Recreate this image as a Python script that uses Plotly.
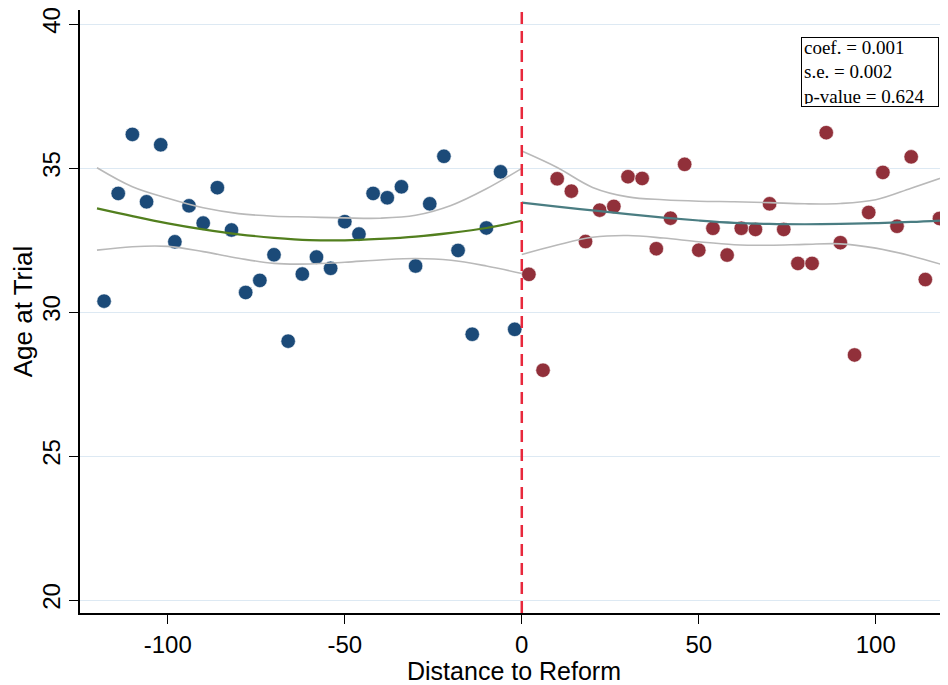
import plotly.graph_objects as go

# ---- data ----
left_x = [-118, -114, -110, -106, -102, -98, -94, -90, -86, -82, -78, -74, -70, -66, -62,
          -58, -54, -50, -46, -42, -38, -34, -30, -26, -22, -18, -14, -10, -6, -2]
left_y = [30.38, 34.12, 36.17, 33.83, 35.81, 32.44, 33.69, 33.09, 34.32, 32.85, 30.68, 31.10, 31.99, 28.99, 31.32,
          31.91, 31.52, 33.14, 32.71, 34.12, 33.97, 34.35, 31.60, 33.76, 35.41, 32.14, 29.23, 32.92, 34.87, 29.40]

right_x = [2, 6, 10, 14, 18, 22, 26, 30, 34, 38, 42, 46, 50, 54, 58,
           62, 66, 70, 74, 78, 82, 86, 90, 94, 98, 102, 106, 110, 114, 118]
right_y = [31.31, 27.98, 34.63, 34.20, 32.45, 33.54, 33.67, 34.70, 34.64, 32.20, 33.26, 35.13, 32.15, 32.91, 31.98,
           32.91, 32.87, 33.76, 32.87, 31.69, 31.69, 36.23, 32.41, 28.51, 33.46, 34.85, 32.98, 35.39, 31.13, 33.25]

fit_left_x = [-120, -110, -100, -90, -80, -70, -60, -50, -40, -30, -20, -10, 0]
fit_left = [33.60, 33.33, 33.08, 32.87, 32.70, 32.58, 32.50, 32.49, 32.54, 32.62, 32.75, 32.92, 33.17]
ci_left_hi = [35.01, 34.35, 33.95, 33.62, 33.42, 33.33, 33.30, 33.27, 33.26, 33.36, 33.70, 34.28, 34.99]
ci_left_lo = [32.15, 32.27, 32.28, 32.10, 31.87, 31.69, 31.67, 31.73, 31.81, 31.86, 31.80, 31.60, 31.34]

fit_right_x = [0, 10, 20, 30, 40, 50, 60, 70, 80, 90, 100, 110, 120]
fit_right = [33.80, 33.66, 33.53, 33.40, 33.28, 33.18, 33.10, 33.06, 33.05, 33.06, 33.09, 33.13, 33.19]
ci_right_hi = [35.59, 35.02, 34.33, 34.00, 33.90, 33.85, 33.83, 33.80, 33.76, 33.77, 33.90, 34.30, 34.72]
ci_right_lo = [32.00, 32.33, 32.60, 32.66, 32.57, 32.44, 32.34, 32.32, 32.35, 32.37, 32.22, 31.95, 31.60]

x_ticks = [-100, -50, 0, 50, 100]
x_tick_labels = ["-100", "-50", "0", "50", "100"]
y_ticks = [20, 25, 30, 35, 40]
y_tick_labels = ["20", "25", "30", "35", "40"]
stats_text = ["coef. = 0.001", "s.e. = 0.002", "p-value = 0.624"]

BLUE = "#1b4a78"
RED = "#91303a"
GREEN = "#527f1e"
TEAL = "#4a7d82"
GRAY = "#b9b9b9"

fig = go.Figure()
fig.add_trace(go.Scatter(x=left_x, y=left_y, mode="markers",
                         marker=dict(size=14.5, color=BLUE, line=dict(color="white", width=0.6))))
fig.add_trace(go.Scatter(x=right_x, y=right_y, mode="markers",
                         marker=dict(size=14.5, color=RED, line=dict(color="white", width=0.6))))

for xs, ys, col, w in [
    (fit_left_x, ci_left_hi, GRAY, 1.6), (fit_left_x, ci_left_lo, GRAY, 1.6),
    (fit_right_x, ci_right_hi, GRAY, 1.6), (fit_right_x, ci_right_lo, GRAY, 1.6),
    (fit_left_x, fit_left, GREEN, 2.2), (fit_right_x, fit_right, TEAL, 2.2),
]:
    fig.add_trace(go.Scatter(x=xs, y=ys, mode="lines",
                             line=dict(color=col, width=w, shape="spline", smoothing=1.0)))

fig.add_shape(type="line", x0=0, x1=0, xref="x", y0=0, y1=1, yref="paper",
              line=dict(color="#e8283c", width=2.5, dash="12px,7px"))

fig.add_annotation(text="<br>".join(stats_text), xref="paper", yref="paper",
                   x=0.9896, y=0.955, xanchor="right", yanchor="top", align="left",
                   width=132, height=64, valign="middle",
                   showarrow=False, bordercolor="black", borderwidth=1, borderpad=2,
                   bgcolor="white", font=dict(family="Liberation Serif", size=19, color="black"))

# the page body has an 8px margin, so the figure is sized/offset to compensate
fig.update_layout(
    width=940, height=677,
    margin=dict(l=72, r=0, t=2, b=72),
    paper_bgcolor="white", plot_bgcolor="white",
    showlegend=False,
    font=dict(family="Liberation Sans", color="black"),
    xaxis=dict(range=[-124.8, 120.4], tickvals=x_ticks, ticktext=x_tick_labels, ticks="outside", ticklen=9,
               tickwidth=1.2, tickcolor="black", showline=True, linecolor="black", linewidth=1.5,
               showgrid=False, zeroline=False, tickfont=dict(size=24), automargin=False,
               ticklabeloverflow="allow",
               title=dict(text="Distance to Reform", font=dict(size=25), standoff=2)),
    yaxis=dict(range=[19.55, 40.49], tickvals=y_ticks, ticktext=y_tick_labels, ticks="outside", ticklen=9,
               tickwidth=1.2, tickcolor="black", showline=True, linecolor="black", linewidth=1.5,
               showgrid=True, gridcolor="#dde9f3", gridwidth=1, zeroline=False,
               tickangle=-90, tickfont=dict(size=24), automargin=False,
               ticklabeloverflow="allow",
               title=dict(text="Age at Trial", font=dict(size=26), standoff=2)),
)

fig.write_html("out.html")
